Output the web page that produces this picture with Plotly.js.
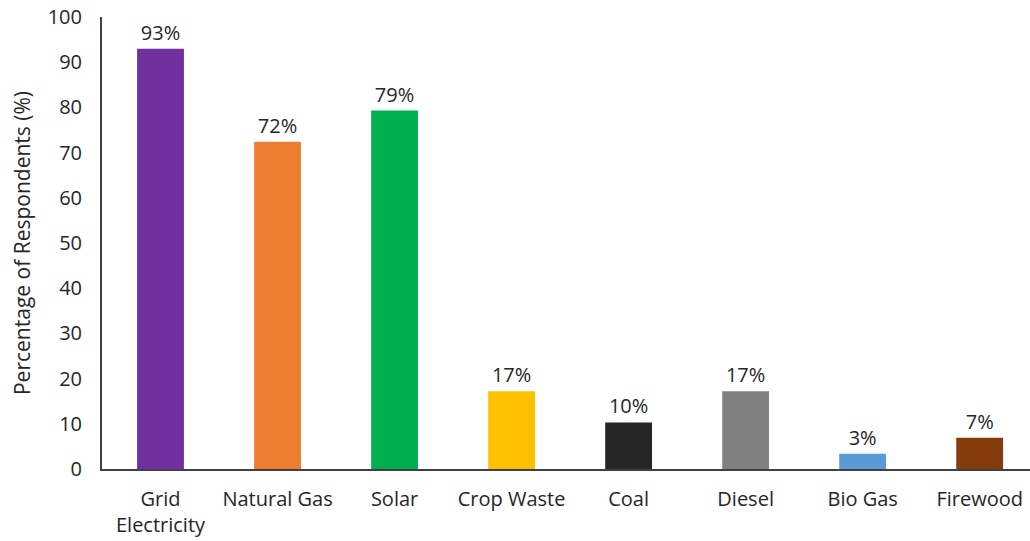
<!DOCTYPE html>
<html>
<head>
<meta charset="utf-8">
<script src="https://cdn.plot.ly/plotly-3.0.1.min.js"></script>
<style>html,body{margin:0;padding:0;background:#fff;}#chart{width:1030px;height:541px;}</style>
</head>
<body>
<div id="chart"></div>
<script>
const categories = ["Grid<br>Electricity", "Natural Gas", "Solar", "Crop Waste", "Coal", "Diesel", "Bio Gas", "Firewood"];
const values = [93, 72.4, 79.3, 17.2, 10.3, 17.2, 3.4, 6.9];
const labels = ["93%", "72%", "79%", "17%", "10%", "17%", "3%", "7%"];
const colors = ["#7030A0", "#ED7D31", "#00B050", "#FFC000", "#262626", "#808080", "#5B9BD5", "#843C0C"];
const yTicks = [0, 10, 20, 30, 40, 50, 60, 70, 80, 90, 100];

const font = "Open Sans, Noto Sans, sans-serif";
Plotly.newPlot("chart", [{
  type: "bar",
  x: categories,
  y: values,
  text: labels,
  textposition: "outside",
  cliponaxis: false,
  textfont: {family: font, size: 20, color: "#262626"},
  marker: {color: colors},
  hoverinfo: "none"
}], {
  width: 1030, height: 541,
  margin: {l: 102, r: 0, t: 17, b: 72},
  paper_bgcolor: "#fff", plot_bgcolor: "#fff",
  bargap: 0.6,
  showlegend: false,
  font: {family: font, size: 20, color: "#262626"},
  xaxis: {
    range: [-0.5, 7.43],
    showline: true, linecolor: "#404040", linewidth: 2,
    showgrid: false, zeroline: false, ticks: "",
    ticklabelstandoff: 11,
    tickfont: {family: font, size: 20, color: "#262626"}
  },
  yaxis: {
    range: [0, 100],
    tickvals: yTicks,
    showline: true, linecolor: "#404040", linewidth: 2,
    showgrid: false, zeroline: false, ticks: "",
    ticklabelstandoff: 14,
    tickfont: {family: font, size: 20, color: "#262626"},
    title: {text: "Percentage of Respondents (%)", font: {family: font, size: 21, color: "#262626"}, standoff: 11}
  }
}, {staticPlot: true});
</script>
</body>
</html>
